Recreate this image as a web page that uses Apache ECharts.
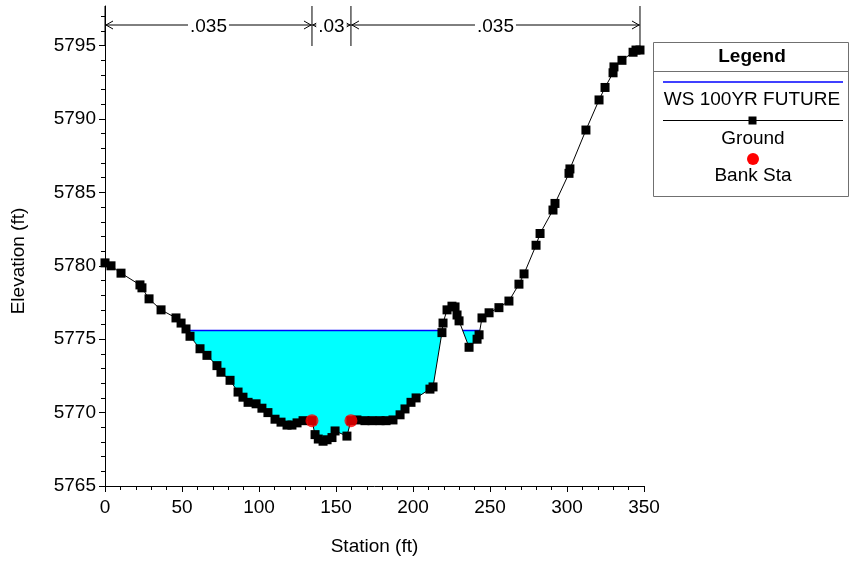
<!DOCTYPE html>
<html><head><meta charset="utf-8">
<script src="https://cdn.jsdelivr.net/npm/echarts@6/dist/echarts.min.js"></script>
<style>html,body{margin:0;padding:0;background:#fff}#c{width:849px;height:561px}</style>
</head><body><div id="c"></div>
<script>
// ---- data ----
const groundStation = [0,3.9,10.4,22.7,24.0,28.6,36.4,46.1,49.4,52.6,55.2,61.7,66.2,72.7,75.3,81.2,86.4,89.6,92.9,98.1,101.9,105.8,110.4,114.3,118.2,121.4,124.7,128.6,134.4,136.4,138.5,141.6,144.2,147.4,149.4,157.1,159.7,163.6,168.8,173.4,178.6,182.5,187.0,191.6,194.8,198.7,202.0,211.0,213.0,218.8,219.5,222.1,225.3,227.3,228.6,229.9,236.4,241.6,242.9,244.8,249.4,255.8,262.3,268.8,272.1,279.9,282.5,290.9,292.2,301.3,301.9,312.3,320.8,324.7,329.9,330.5,335.7,342.9,344.8,347.4];
const groundElev = [5780.2,5780.0,5779.5,5778.7,5778.5,5777.75,5777.0,5776.45,5776.1,5775.7,5775.2,5774.35,5773.9,5773.2,5772.75,5772.2,5771.4,5771.05,5770.7,5770.6,5770.3,5770.0,5769.55,5769.35,5769.15,5769.15,5769.3,5769.45,5769.45,5768.5,5768.2,5768.05,5768.15,5768.3,5768.75,5768.4,5769.45,5769.5,5769.45,5769.45,5769.45,5769.45,5769.5,5769.85,5770.25,5770.7,5771.0,5771.6,5771.75,5775.45,5776.1,5777.0,5777.25,5777.2,5776.65,5776.25,5774.45,5775.0,5775.3,5776.45,5776.8,5777.15,5777.6,5778.75,5779.45,5781.4,5782.2,5783.8,5784.25,5786.3,5786.6,5789.25,5791.3,5792.15,5793.15,5793.55,5794.0,5794.55,5794.7,5794.7];
const bankStation = [134.4, 159.7];
const bankElev = [5769.45, 5769.45];
const wsElev = 5775.6;
const nStations = [0, 134.4, 159.7, 347.4];
const nValues = ['.035', '.03', '.035'];
const xMin = 0, xMax = 350, xInterval = 50;
const yMin = 5765, yMax = 5797.7, yInterval = 5;
const yTickValues = [5765, 5770, 5775, 5780, 5785, 5790, 5795];
const seriesNames = ['WS 100YR FUTURE', 'Ground', 'Bank Sta'];

// ---- derived: wetted regions below water surface ----
const waterPolys = [];
(function () {
  let cur = null;
  for (let i = 0; i < groundStation.length; i++) {
    const x = groundStation[i], y = groundElev[i];
    const below = y < wsElev;
    if (i > 0) {
      const px = groundStation[i-1], py = groundElev[i-1];
      const pBelow = py < wsElev;
      if (below !== pBelow) {
        const xi = px + (x - px) * (wsElev - py) / (y - py);
        if (below) { cur = [[xi, wsElev]]; }
        else if (cur) { cur.push([xi, wsElev]); waterPolys.push(cur); cur = null; }
      }
    }
    if (below && cur) cur.push([x, y]);
  }
})();
const wsLine = [];
waterPolys.forEach((p, k) => {
  if (k > 0) wsLine.push([null, null]);
  wsLine.push([p[0][0], wsElev]);
  wsLine.push([p[p.length-1][0], wsElev]);
});

const FONT = '"Liberation Sans", Arial, sans-serif';
const chart = echarts.init(document.getElementById('c'));
chart.setOption({
  animation: false,
  backgroundColor: '#fff',
  grid: { left: 105, right: 205, top: 6, bottom: 72, containLabel: false },
  xAxis: {
    type: 'value', min: xMin, max: xMax, interval: xInterval,
    name: 'Station (ft)', nameLocation: 'middle', nameGap: 51,
    nameTextStyle: { color: '#000', fontSize: 19, fontFamily: FONT },
    axisLine: { lineStyle: { color: '#000', width: 1 } },
    axisTick: { show: true, length: 6, lineStyle: { color: '#000' } },
    minorTick: { show: true, splitNumber: 5, length: 4, lineStyle: { color: '#000' } },
    axisLabel: { color: '#000', fontSize: 19, fontFamily: FONT, margin: 12 },
    splitLine: { show: false }, z: 10
  },
  yAxis: {
    type: 'value', min: yMin, max: yMax, interval: yInterval,
    name: 'Elevation (ft)', nameLocation: 'middle', nameGap: 77,
    nameTextStyle: { color: '#000', fontSize: 19, fontFamily: FONT, padding: [0, 30, 0, 0] },
    axisLine: { lineStyle: { color: '#000', width: 1 } },
    axisTick: { show: true, length: 6, lineStyle: { color: '#000' }, customValues: yTickValues },
    minorTick: { show: true, splitNumber: 5, length: 4, lineStyle: { color: '#000' } },
    axisLabel: { color: '#000', fontSize: 19, fontFamily: FONT, margin: 9, customValues: yTickValues,
      formatter: v => (v % 5 === 0 ? String(v) : '') },
    splitLine: { show: false }, z: 10
  },
  series: [
    {
      type: 'custom', name: 'water', z: 1, clip: true,
      data: waterPolys.map(p => [p[0][0], wsElev]),
      renderItem: function (params, api) {
        const poly = waterPolys[params.dataIndex];
        return { type: 'polygon', shape: { points: poly.map(pt => api.coord(pt)) },
          style: { fill: '#00ffff', stroke: null } };
      }
    },
    {
      type: 'line', name: seriesNames[0], z: 2, data: wsLine, symbol: 'none',
      connectNulls: false, lineStyle: { color: '#0000ff', width: 1.5 }
    },
    {
      type: 'line', name: seriesNames[1], z: 3,
      data: groundStation.map((s, i) => [s, groundElev[i]]),
      symbol: 'rect', symbolSize: 9, itemStyle: { color: '#000' },
      lineStyle: { color: '#000', width: 1 }
    },
    {
      type: 'scatter', name: seriesNames[2], z: 4,
      data: bankStation.map((s, i) => [s, bankElev[i]]),
      symbol: 'circle', symbolSize: 13, itemStyle: { color: '#ff0000' }
    },
    {
      type: 'custom', name: 'nvalues', z: 5, clip: false, silent: true,
      data: nValues.map((v, i) => [nStations[i], yMax]),
      renderItem: function (params, api) {
        const i = params.dataIndex;
        const x1 = api.coord([nStations[i], yMax])[0];
        const x2 = api.coord([nStations[i+1], yMax])[0];
        const yTop = api.coord([xMin, yMax])[1];
        const yA = yTop + 19, yB = yTop + 40;
        const ls = { stroke: '#000', lineWidth: 1, fill: null };
        const ch = [];
        if (i === 0) ch.push({ type: 'line', shape: { x1: x1, y1: yTop, x2: x1, y2: yB }, style: ls });
        ch.push({ type: 'line', shape: { x1: x2, y1: yTop, x2: x2, y2: yB }, style: ls });
        ch.push({ type: 'line', shape: { x1: x1, y1: yA, x2: x2, y2: yA }, style: ls });
        ch.push({ type: 'polyline', shape: { points: [[x1+8, yA-4], [x1+1, yA], [x1+8, yA+4]] }, style: ls });
        ch.push({ type: 'polyline', shape: { points: [[x2-8, yA-4], [x2-1, yA], [x2-8, yA+4]] }, style: ls });
        ch.push({ type: 'text', x: (x1+x2)/2, y: yA + 2, z2: 10,
          style: { text: nValues[i], fill: '#000', fontSize: 19, fontFamily: FONT,
            align: 'center', verticalAlign: 'middle', backgroundColor: '#fff', padding: [0, 2] } });
        return { type: 'group', children: ch };
      }
    }
  ],
  graphic: [
    { type: 'rect', z: 100, shape: { x: 653.5, y: 42.5, width: 195, height: 154 },
      style: { fill: '#fff', stroke: '#707070', lineWidth: 1 } },
    { type: 'line', z: 101, shape: { x1: 654, y1: 71.5, x2: 849, y2: 71.5 }, style: { stroke: '#707070', lineWidth: 1 } },
    { type: 'text', z: 101, x: 752, y: 57, style: { text: 'Legend', fill: '#000', fontSize: 19, fontWeight: 'bold', fontFamily: FONT, align: 'center', verticalAlign: 'middle' } },
    { type: 'line', z: 101, shape: { x1: 663, y1: 82, x2: 843, y2: 82 }, style: { stroke: '#0000ff', lineWidth: 1.5 } },
    { type: 'text', z: 101, x: 752, y: 100, style: { text: seriesNames[0], fill: '#000', fontSize: 19, fontFamily: FONT, align: 'center', verticalAlign: 'middle' } },
    { type: 'line', z: 101, shape: { x1: 663, y1: 120.5, x2: 843, y2: 120.5 }, style: { stroke: '#000', lineWidth: 1 } },
    { type: 'rect', z: 102, shape: { x: 748.5, y: 116.5, width: 8, height: 8 }, style: { fill: '#000' } },
    { type: 'text', z: 101, x: 753, y: 139, style: { text: seriesNames[1], fill: '#000', fontSize: 19, fontFamily: FONT, align: 'center', verticalAlign: 'middle' } },
    { type: 'circle', z: 101, shape: { cx: 753, cy: 159, r: 6 }, style: { fill: '#ff0000' } },
    { type: 'text', z: 101, x: 753, y: 176, style: { text: seriesNames[2], fill: '#000', fontSize: 19, fontFamily: FONT, align: 'center', verticalAlign: 'middle' } }
  ]
});
</script></body></html>
